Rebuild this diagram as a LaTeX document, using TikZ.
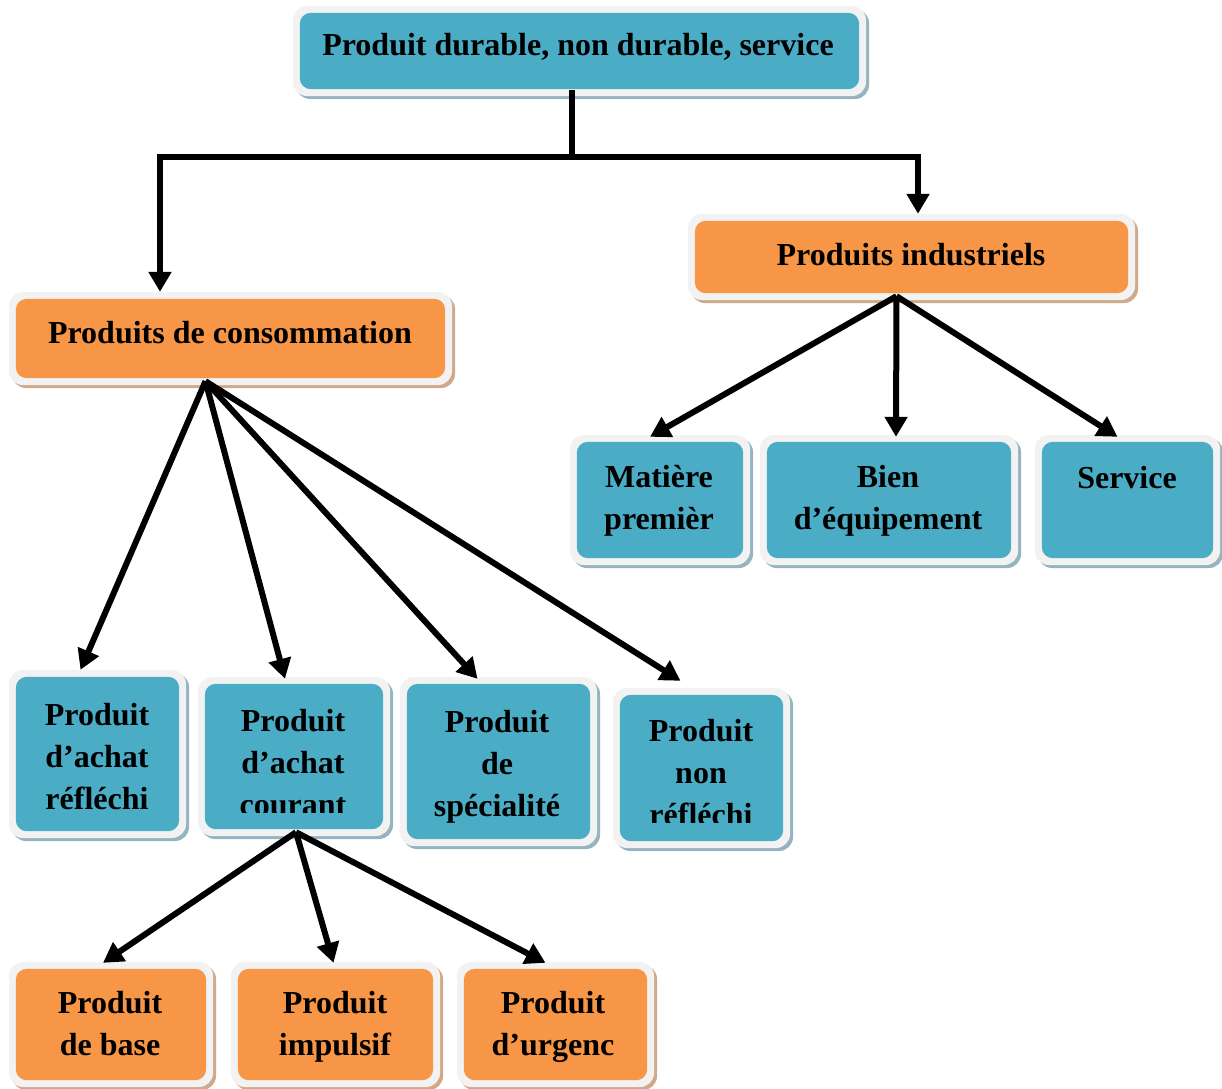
\documentclass[tikz,border=0pt]{standalone}
\usepackage{fontspec}
\setmainfont{Liberation Serif}
\usetikzlibrary{calc,arrows.meta}

\definecolor{boxblue}{HTML}{4BACC6}
\definecolor{boxorange}{HTML}{F79646}
\definecolor{framegray}{HTML}{F2F2F2}
\definecolor{shadeblue}{RGB}{150,180,192}
\definecolor{shadeorange}{RGB}{208,168,138}

\tikzset{
  frame/.style={fill=framegray, rounded corners=14pt, inner sep=0pt, draw=none},
  txt/.style={font=\bfseries\fontsize{32}{42}\selectfont, align=center, inner sep=0pt, anchor=north},
  conn/.style={line width=6pt, line join=miter},
  arr/.style={conn, -{Triangle[length=20pt,width=22pt]}},
}

% framed box: name, x1, y1, x2, y2, fill colour, shadow colour
\newcommand\framedbox[7]{%
  \fill[#7, rounded corners=14pt] (#2+3,#3+3) rectangle (#4+3,#5+3);
  \node[frame, minimum width={#4-#2}, minimum height={#5-#3}] (#1) at ({(#2+#4)/2},{(#3+#5)/2}) {};
  \fill[#6, rounded corners=11pt] ($(#1.north west)+(7,7)$) rectangle ($(#1.south east)+(-7,-7)$);
}

\begin{document}
\begin{tikzpicture}[x=1pt,y=-1pt]
\useasboundingbox (0,0) rectangle (1222,1088);
\fill[white] (0,0) rectangle (1222,1088);

% boxes
\framedbox{top}{293}{6}{866}{96}{boxblue}{shadeblue}
\framedbox{ind}{688}{214}{1135}{300}{boxorange}{shadeorange}
\framedbox{cons}{9}{292}{452}{385}{boxorange}{shadeorange}
\framedbox{mat}{570}{435}{750}{565}{boxblue}{shadeblue}
\framedbox{bien}{760}{435}{1018}{565}{boxblue}{shadeblue}
\framedbox{serv}{1035}{435}{1220}{565}{boxblue}{shadeblue}
\framedbox{refl}{9}{670}{186}{838}{boxblue}{shadeblue}
\framedbox{cour}{198}{677}{390}{836}{boxblue}{shadeblue}
\framedbox{spec}{400}{677}{597}{846}{boxblue}{shadeblue}
\framedbox{nonr}{613}{688}{790}{848}{boxblue}{shadeblue}
\framedbox{base}{9}{962}{213}{1087}{boxorange}{shadeorange}
\framedbox{imp}{231}{962}{440}{1087}{boxorange}{shadeorange}
\framedbox{urg}{457}{962}{654}{1087}{boxorange}{shadeorange}

% labels
\node[txt] (top-t) at (578,33) {Produit durable, non durable, service};
\node[txt] (ind-t) at (911,243) {Produits industriels};
\node[txt] (cons-t) at (230,321) {Produits de consommation};
\node[txt] (mat-t) at (659,465) {Matière\\premièr};
\node[txt] (bien-t) at (888,465) {Bien\\d’équipement};
\node[txt] (serv-t) at (1127,466) {Service};
\node[txt] (refl-t) at (97,703) {Produit\\d’achat\\réfléchi};
\begin{scope}
  \clip (198,680) rectangle (390,812);
  \node[txt] (cour-t) at (293,709) {Produit\\d’achat\\courant};
\end{scope}
\node[txt] (spec-t) at (497,710) {Produit\\de\\spécialité};
\begin{scope}
  \clip (613,690) rectangle (790,822);
  \node[txt] (nonr-t) at (701,719) {Produit\\non\\réfléchi};
\end{scope}
\node[txt] (base-t) at (110,991) {Produit\\de base};
\node[txt] (imp-t) at (335,991) {Produit\\impulsif};
\node[txt] (urg-t) at (553,991) {Produit\\d’urgenc};

% connectors
\coordinate (split) at (572,157);
\draw[conn] ($(top.south)+(-7.5,-6)$) -- (split);
\draw[arr] (split) -| ($(cons.north)+(-70.5,0)$);
\draw[arr] (split) -| ($(ind.north)+(6.5,0)$);

\coordinate (consHub) at ($(cons.south)+(-25,-4)$);
\draw[arr] (consHub) -- ($(refl.north)+(-17,0)$);
\draw[arr] (consHub) -- ($(cour.north)+(-9,2)$);
\draw[arr] (consHub) -- ($(spec.north)+(-21,2)$);
\draw[arr] (consHub) -- ($(nonr.north)+(-21,-7)$);

\coordinate (indHub) at ($(ind.south)+(-15,-4)$);
\draw[arr] (indHub) -- ($(mat.north)+(-10,2)$);
\draw[arr] (indHub) -- ($(bien.north)+(7,2)$);
\draw[arr] (indHub) -- ($(serv.north)+(-10,2)$);

\coordinate (courHub) at ($(cour.south)+(2,-4)$);
\draw[arr] (courHub) -- ($(base.north)+(-8,1)$);
\draw[arr] (courHub) -- ($(imp.north)+(-2,1)$);
\draw[arr] (courHub) -- ($(urg.north)+(-10,1)$);
\end{tikzpicture}
\end{document}
